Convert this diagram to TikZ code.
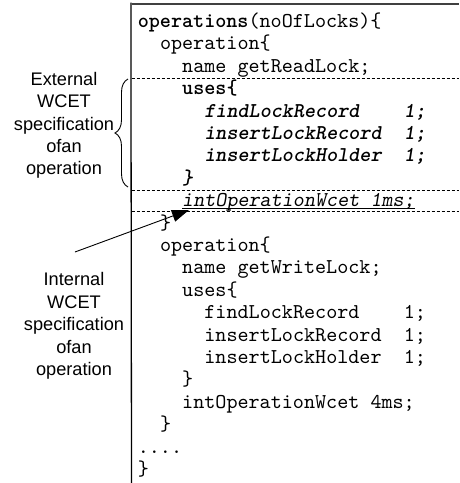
\documentclass[tikz,border=0pt]{standalone}
\usepackage{fontspec}
\setmainfont{Liberation Sans}
\setmonofont{lmmono10-regular.otf}[ItalicFont=lmmonoslant10-regular.otf,BoldFont=lmmonolt10-bold.otf,BoldItalicFont=lmmonolt10-boldoblique.otf]
\usetikzlibrary{arrows.meta,decorations.pathreplacing}
\newcommand\cdfont{\ttfamily\fontsize{21.1}{22.4}\selectfont}
\newcommand\lblfont{\rmfamily\fontsize{18.2}{22.4}\selectfont}
\newcommand\ulx[1]{\setbox0\hbox{#1}\rlap{\rule[-1.6pt]{\wd0}{0.8pt}}\box0}
\begin{document}
\begin{tikzpicture}[x=1pt,y=-1pt,
  code/.style={anchor=base west,inner sep=0pt,font=\cdfont},
  lbl/.style={anchor=north,inner sep=0pt,align=center,font=\lblfont},
  sep/.style={dashed,dash pattern=on 3pt off 2pt,line width=0.8pt},
  frame/.style={line width=1.3pt},
  topframe/.style={line width=2pt,draw=black!75},
  pointer/.style={line width=0.9pt,-{Triangle[length=17pt,width=12pt]}},
  bracket/.style={line width=0.9pt,decorate,decoration={brace,amplitude=13pt}}]
\useasboundingbox (0,0) rectangle (459,483);
\def\xo{137.6}
\def\cw{11.1}
\def\yo{27.5}
\def\ls{22.4}
% frame
\coordinate (ftl) at (131.5,3.5);
\coordinate (ftr) at (459,3.5);
\coordinate (fbl) at (131.5,483);
\draw[topframe] (ftl) -- (ftr);
\draw[frame] (130.9,2.5) -- (fbl);
% separators
\coordinate (s1l) at (131.5,78); \coordinate (s1r) at (459,78);
\coordinate (s2l) at (131.5,190); \coordinate (s2r) at (459,190);
\coordinate (s3l) at (131.5,211); \coordinate (s3r) at (459,211);
\draw[sep] (s1l) -- (s1r);
\draw[sep] (s2l) -- (s2r);
\draw[sep] (s3l) -- (s3r);
% code
\node[code] (l1) at (\xo,\yo) {\textbf{operations}(noOfLocks)\{};
\node[code] (l2) at ({\xo+2*\cw},{\yo+1*\ls}) {operation\{};
\node[code] (l3) at ({\xo+4*\cw},{\yo+2*\ls}) {name getReadLock;};
\node[code] (l4) at ({\xo+4*\cw},{\yo+3*\ls}) {\textbf{uses\{}};
\node[code] (l5) at ({\xo+6*\cw},{\yo+4*\ls}) {\textbf{\textit{findLockRecord~~~~1;}}};
\node[code] (l6) at ({\xo+6*\cw},{\yo+5*\ls}) {\textbf{\textit{insertLockRecord~~1;}}};
\node[code] (l7) at ({\xo+6*\cw},{\yo+6*\ls}) {\textbf{\textit{insertLockHolder~~1;}}};
\node[code] (l8) at ({\xo+4*\cw},{\yo+7*\ls}) {\textbf{\textit{\}}}};
\node[code] (l9) at ({\xo+4*\cw},{\yo+8*\ls}) {\ulx{\textit{intOperationWcet 1ms;}}};
\node[code] (l10) at ({\xo+2*\cw},{\yo+9*\ls}) {\}};
\node[code] (l11) at ({\xo+2*\cw},{\yo+10*\ls}) {operation\{};
\node[code] (l12) at ({\xo+4*\cw},{\yo+11*\ls}) {name getWriteLock;};
\node[code] (l13) at ({\xo+4*\cw},{\yo+12*\ls}) {uses\{};
\node[code] (l14) at ({\xo+6*\cw},{\yo+13*\ls}) {findLockRecord~~~~1;};
\node[code] (l15) at ({\xo+6*\cw},{\yo+14*\ls}) {insertLockRecord~~1;};
\node[code] (l16) at ({\xo+6*\cw},{\yo+15*\ls}) {insertLockHolder~~1;};
\node[code] (l17) at ({\xo+4*\cw},{\yo+16*\ls}) {\}};
\node[code] (l18) at ({\xo+4*\cw},{\yo+17*\ls}) {intOperationWcet 4ms;};
\node[code] (l19) at ({\xo+2*\cw},{\yo+18*\ls}) {\}};
\node[code] (l20) at (\xo,{\yo+19*\ls}) {....};
\node[code] (l21) at (\xo,{\yo+20*\ls}) {\}};
% labels
\node[lbl] (ext) at (64,72) {External\\WCET\\specification\\ofan\\operation};
\node[lbl] (int) at (74,272.5) {Internal\\WCET\\specification\\ofan\\operation};
% brace
\coordinate (bt) at (128,79);
\coordinate (bb) at (128,187);
\draw[bracket] (bb) -- (bt);
% arrow
\coordinate (as) at (75,252);
\coordinate (at) at (189,210);
\draw[pointer] (as) -- (at);
\end{tikzpicture}
\end{document}
